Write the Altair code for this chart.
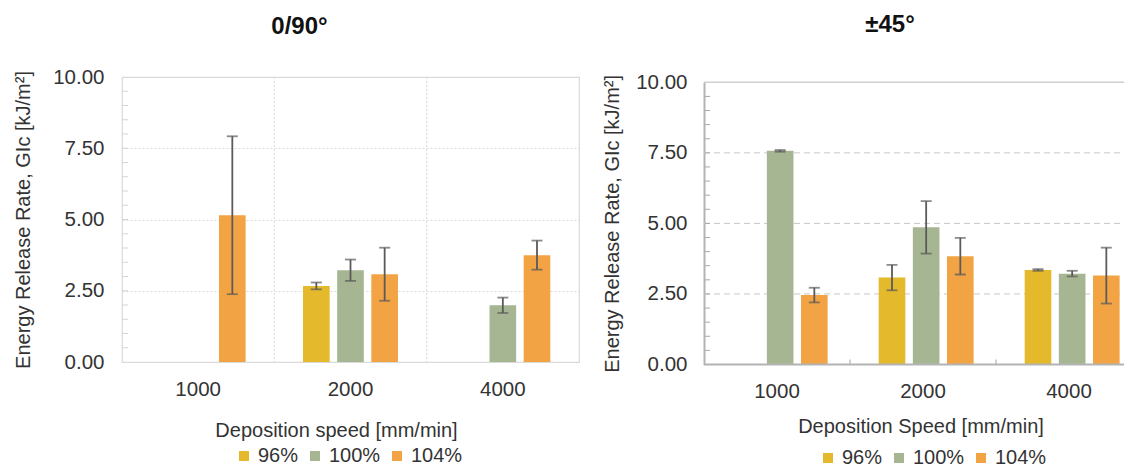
import altair as alt
import pandas as pd

# ---------------- data ----------------
speeds = ["1000", "2000", "4000"]
series = ["96%", "100%", "104%"]
colors = ["#E4B92B", "#A6B692", "#F2A445"]

# 0/90 deg panel: mean GIc and error (+/-)
g090_96 = [None, 2.67, None]
g090_100 = [None, 3.22, 1.99]
g090_104 = [5.15, 3.08, 3.75]
e090_96 = [None, 0.12, None]
e090_100 = [None, 0.375, 0.27]
e090_104 = [2.77, 0.93, 0.51]

# +/-45 deg panel
g45_96 = [None, 3.08, 3.35]
g45_100 = [7.57, 4.86, 3.22]
g45_104 = [2.46, 3.84, 3.15]
e45_96 = [None, 0.45, 0.03]
e45_100 = [0.03, 0.93, 0.10]
e45_104 = [0.26, 0.65, 0.99]

y_ticks = [0, 2.5, 5, 7.5, 10]
minor_ticks = [0.5 * i for i in range(1, 20)]
boundaries = ["2000", "4000"]

FONT = "Liberation Sans"
TXT = "#333333"
YTITLE = "Energy Release Rate, GIc [kJ/m²]"
LFS = 20.5


def build_df(vals, errs):
    rows = []
    for s, v_list, e_list in zip(series, vals, errs):
        for sp, v, e in zip(speeds, v_list, e_list):
            if v is None:
                continue
            rows.append({"speed": sp, "series": s, "g": v, "lo": v - e, "hi": v + e})
    return pd.DataFrame(rows)


df090 = build_df([g090_96, g090_100, g090_104], [e090_96, e090_100, e090_104])
df45 = build_df([g45_96, g45_100, g45_104], [e45_96, e45_100, e45_104])


def panel(df, title, dx_title, title_off, xtitle, xtitle_x, xtitle_y, W, H, xrange, yrange,
          left_style, legend_x, legend_y, label_pad_y, title_pad_y, label_pad_x):
    xscale = alt.Scale(domain=speeds, range=xrange, paddingInner=0, paddingOuter=0)
    yscale = alt.Scale(domain=[0, 10], range=yrange, nice=False, zero=True)
    xoff = alt.XOffset("series:N", scale=alt.Scale(domain=series, paddingInner=0.22, paddingOuter=0.84))

    if left_style:
        xaxis = alt.Axis(title=xtitle, labelAngle=0, ticks=False, domain=False, grid=False,
                         labelPadding=label_pad_x, labelFontSize=LFS, labelFont=FONT, labelColor=TXT,
                         titleFontSize=20, titleFont=FONT, titleFontWeight="normal", titleColor=TXT,
                         titleX=xtitle_x, titleY=xtitle_y, titleBaseline="alphabetic")
        yaxis = alt.Axis(title=YTITLE, values=y_ticks, format=".2f",
                         ticks=False, domain=False, grid=True, gridColor="#dadada",
                         gridDash=[2, 2], gridWidth=1,
                         labelPadding=label_pad_y, labelFontSize=LFS, labelFont=FONT, labelColor=TXT,
                         titleFontSize=20, titleFont=FONT, titleFontWeight="normal",
                         titleColor=TXT, titlePadding=title_pad_y)

        def X(f="speed:N", **kw):
            return alt.X(f, scale=xscale, **kw)
    else:
        # the category band runs past the right edge of the picture, so the x labels
        # are drawn as text marks placed by the same band scale
        xaxis = None
        yaxis = alt.Axis(title=YTITLE, values=y_ticks, format=".2f",
                         ticks=False, domain=True, domainColor="#b3b3b3", domainWidth=2, grid=False,
                         labelPadding=label_pad_y, labelFontSize=LFS, labelFont=FONT, labelColor=TXT,
                         titleFontSize=20, titleFont=FONT, titleFontWeight="normal",
                         titleColor=TXT, titlePadding=title_pad_y)

        def X(f="speed:N", **kw):
            kw.setdefault("axis", None)
            return alt.X(f, scale=xscale, **kw)

    legend = alt.Legend(title=None, orient="none", legendX=legend_x, legendY=legend_y,
                        direction="horizontal", symbolType="square", symbolSize=100,
                        symbolStrokeWidth=0, labelFontSize=20, labelFont=FONT, labelColor=TXT,
                        labelOffset=4, columnPadding=6)

    def Y(f, **kw):
        return alt.Y(f, scale=yscale, **kw)

    layers = []
    minor_df = pd.DataFrame({"g": minor_ticks})
    bnd_df = pd.DataFrame({"speed": boundaries})

    # invisible layer carrying the axes
    axis_layer = alt.Chart(df).mark_bar(opacity=0).encode(
        x=X(axis=xaxis), xOffset=xoff, y=Y("g:Q", axis=yaxis))
    layers.append(axis_layer)

    if left_style:
        vgrid = alt.Chart(bnd_df).mark_rule(color="#dadada", strokeDash=[2, 2], strokeWidth=1).encode(
            x=X(bandPosition=0))
        layers.append(vgrid)
        minor = alt.Chart(minor_df).mark_rule(color="#d4d4d4", strokeWidth=1).encode(
            y=Y("g:Q"), x=alt.value(0), x2=alt.value(6))
        layers.append(minor)
    else:
        grid_df = pd.DataFrame({"g": [2.5, 5, 7.5]})
        hgrid = alt.Chart(grid_df).mark_rule(color="#c8c8c8", strokeDash=[6, 4], strokeWidth=1).encode(
            y=Y("g:Q"), x=alt.value(0), x2=alt.value(W))
        layers.append(hgrid)
        top_df = pd.DataFrame({"g": [10]})
        top = alt.Chart(top_df).mark_rule(color="#cfcfcf", strokeWidth=1.5).encode(
            y=Y("g:Q"), x=alt.value(0), x2=alt.value(W))
        layers.append(top)
        minor = alt.Chart(minor_df).mark_rule(color="#a8a8a8", strokeWidth=1).encode(
            y=Y("g:Q"), x=alt.value(1), x2=alt.value(6))
        layers.append(minor)

    bars = alt.Chart(df).mark_bar().encode(
        x=X(), xOffset=xoff, y=Y("g:Q"),
        color=alt.Color("series:N", scale=alt.Scale(domain=series, range=colors), legend=legend),
    )
    layers.append(bars)

    if not left_style:
        base_df = pd.DataFrame({"g": [0]})
        base = alt.Chart(base_df).mark_rule(color="#b3b3b3", strokeWidth=2).encode(
            y=Y("g:Q"), x=alt.value(0), x2=alt.value(W))
        layers.append(base)
        btick = alt.Chart(bnd_df).mark_rule(color="#b3b3b3", strokeWidth=1.2).encode(
            x=X(bandPosition=0), y=alt.value(yrange[0] - 5), y2=alt.value(yrange[0]))
        layers.append(btick)
        lab_df = pd.DataFrame({"speed": speeds})
        xlabels = alt.Chart(lab_df).mark_text(
            font=FONT, fontSize=LFS, color=TXT, baseline="alphabetic", align="center").encode(
            x=X(), y=alt.value(yrange[0] + 33), text="speed:N")
        layers.append(xlabels)
        xt_df = pd.DataFrame({"t": [xtitle]})
        xt = alt.Chart(xt_df).mark_text(
            font=FONT, fontSize=20, color=TXT, baseline="alphabetic", align="center").encode(
            x=alt.value(xtitle_x), y=alt.value(yrange[0] + xtitle_y), text="t:N")
        layers.append(xt)

    err = alt.Chart(df).mark_rule(color="#5a5a5a", strokeWidth=1.8).encode(
        x=X(), xOffset=xoff, y=Y("lo:Q"), y2="hi:Q")
    cap_lo = alt.Chart(df).mark_tick(color="#5a5a5a", thickness=1.8, size=11).encode(
        x=X(), xOffset=xoff, y=Y("lo:Q"))
    cap_hi = alt.Chart(df).mark_tick(color="#5a5a5a", thickness=1.8, size=11).encode(
        x=X(), xOffset=xoff, y=Y("hi:Q"))
    layers += [err, cap_lo, cap_hi]

    view = alt.ViewBackground(stroke="#d9d9d9", strokeWidth=1.2) if left_style else alt.ViewBackground(stroke=None)

    return alt.layer(*layers).properties(
        width=W, height=H, view=view,
        title=alt.TitleParams(title, fontSize=24, fontWeight="bold", font=FONT, color="#111111",
                              anchor="middle", frame="group", dx=dx_title, offset=title_off,
                              baseline="alphabetic"),
    )


RW = 420
left = panel(df090, "0/90°", -51, 9, "Deposition speed [mm/min]", 214, 74,
             457, 285, [0, 457], [285, 0], True, 112, 369, 18, 19, 17)
right = panel(df45, "±45°", -24, 16, "Deposition Speed [mm/min]", 217, 68.5,
              RW, 288, [0, 438], [287.5, 5.3], False, 114, 371, 17, 13, 15)

chart = alt.hconcat(left, right, spacing=22).resolve_scale(
    color="independent", x="independent", y="independent"
).resolve_legend(color="independent").properties(
    padding={"left": 5, "top": 5, "right": 0, "bottom": 0}
)

chart.save("out.html", embed_options={"renderer": "svg", "actions": False})
